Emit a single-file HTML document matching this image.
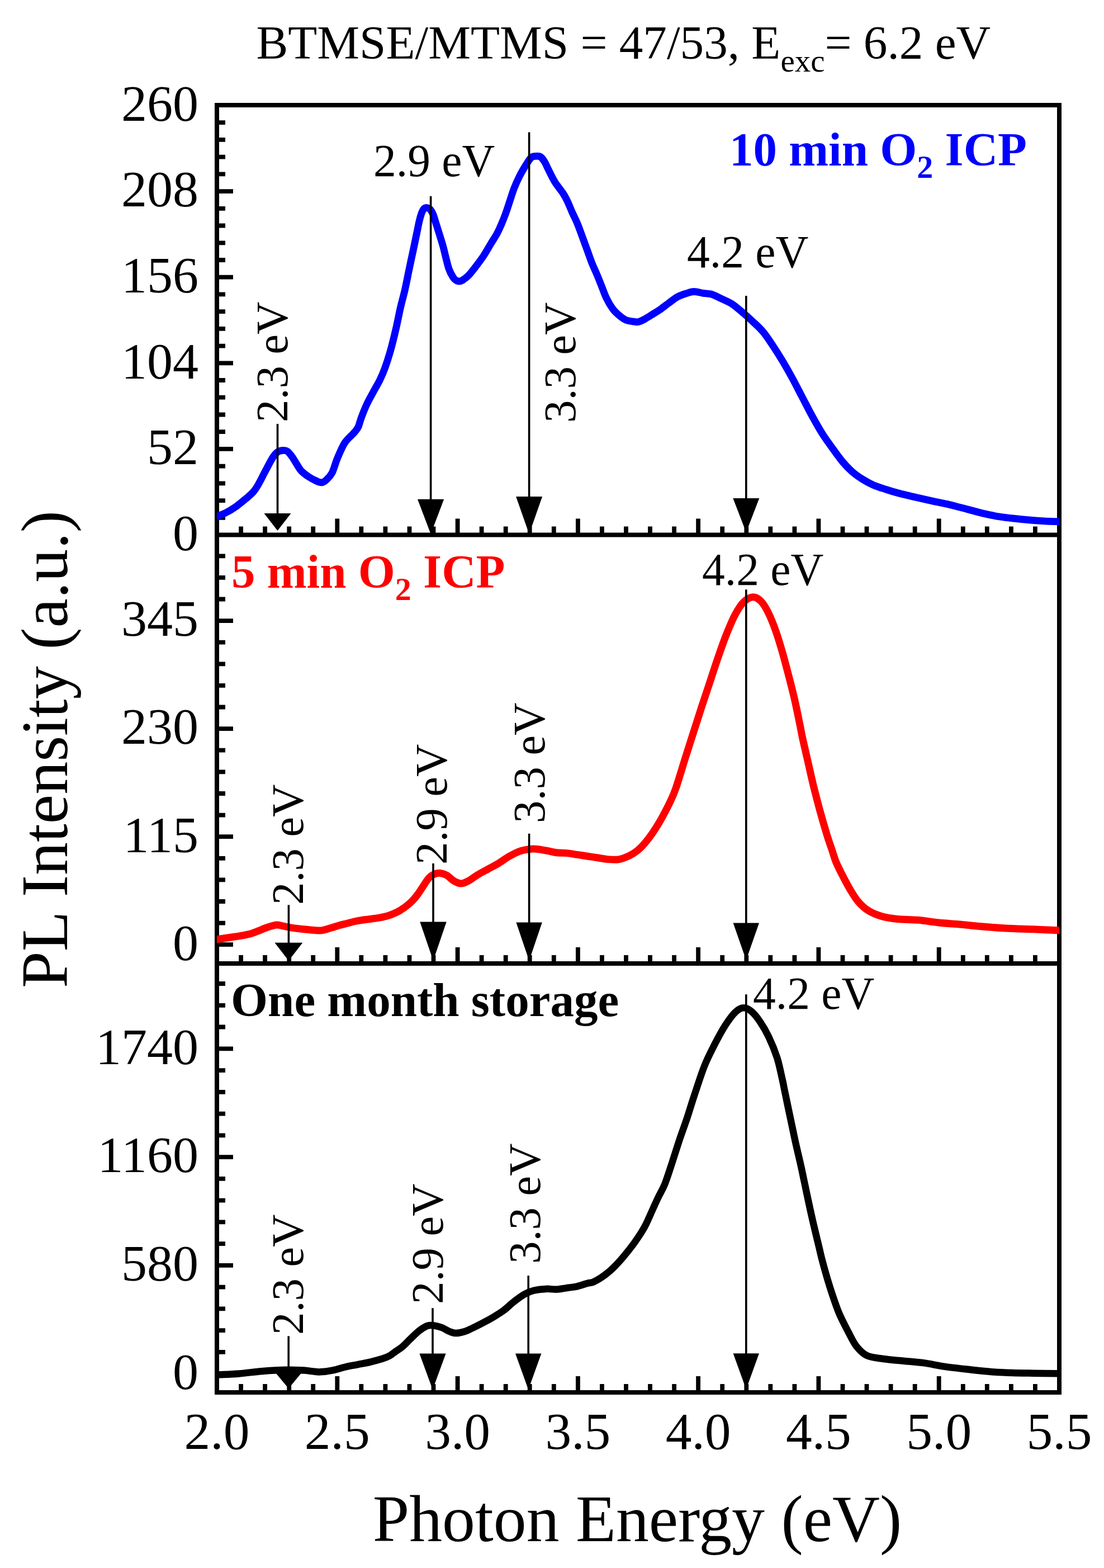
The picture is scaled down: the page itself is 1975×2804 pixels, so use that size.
<!DOCTYPE html><html><head><meta charset="utf-8"><style>html,body{margin:0;padding:0;background:#fff}svg{display:block}</style></head><body><svg width="1975" height="2804" viewBox="0 0 1975 2804">
<rect width="1975" height="2804" fill="#fff"/>
<path d="M431.1,956.5V941.5M474.1,956.5V941.5M517.2,956.5V941.5M560.2,956.5V941.5M603.3,956.5V927.5M646.3,956.5V941.5M689.4,956.5V941.5M732.5,956.5V941.5M775.5,956.5V941.5M818.6,956.5V927.5M861.6,956.5V941.5M904.7,956.5V941.5M947.7,956.5V941.5M990.8,956.5V941.5M1033.9,956.5V927.5M1076.9,956.5V941.5M1120.0,956.5V941.5M1163.0,956.5V941.5M1206.1,956.5V941.5M1249.1,956.5V927.5M1292.2,956.5V941.5M1335.3,956.5V941.5M1378.3,956.5V941.5M1421.4,956.5V941.5M1464.4,956.5V927.5M1507.5,956.5V941.5M1550.5,956.5V941.5M1593.6,956.5V941.5M1636.7,956.5V941.5M1679.7,956.5V927.5M1722.8,956.5V941.5M1765.8,956.5V941.5M1808.9,956.5V941.5M1851.9,956.5V941.5M388,925.8H403M388,895.1H403M388,864.3H403M388,833.6H403M388,802.9H417M388,772.2H403M388,741.5H403M388,710.7H403M388,680.0H403M388,649.3H417M388,618.6H403M388,587.9H403M388,557.1H403M388,526.4H403M388,495.7H417M388,465.0H403M388,434.3H403M388,403.5H403M388,372.8H403M388,342.1H417M388,311.4H403M388,280.7H403M388,249.9H403M388,219.2H403M431.1,1723.0V1708.0M474.1,1723.0V1708.0M517.2,1723.0V1708.0M560.2,1723.0V1708.0M603.3,1723.0V1694.0M646.3,1723.0V1708.0M689.4,1723.0V1708.0M732.5,1723.0V1708.0M775.5,1723.0V1708.0M818.6,1723.0V1694.0M861.6,1723.0V1708.0M904.7,1723.0V1708.0M947.7,1723.0V1708.0M990.8,1723.0V1708.0M1033.9,1723.0V1694.0M1076.9,1723.0V1708.0M1120.0,1723.0V1708.0M1163.0,1723.0V1708.0M1206.1,1723.0V1708.0M1249.1,1723.0V1694.0M1292.2,1723.0V1708.0M1335.3,1723.0V1708.0M1378.3,1723.0V1708.0M1421.4,1723.0V1708.0M1464.4,1723.0V1694.0M1507.5,1723.0V1708.0M1550.5,1723.0V1708.0M1593.6,1723.0V1708.0M1636.7,1723.0V1708.0M1679.7,1723.0V1694.0M1722.8,1723.0V1708.0M1765.8,1723.0V1708.0M1808.9,1723.0V1708.0M1851.9,1723.0V1708.0M388,1689.2H417M388,1650.6H403M388,1612.0H403M388,1573.4H403M388,1534.8H403M388,1496.2H417M388,1457.6H403M388,1419.0H403M388,1380.3H403M388,1341.7H403M388,1303.1H417M388,1264.5H403M388,1225.9H403M388,1187.3H403M388,1148.7H403M388,1110.1H417M388,1071.5H403M388,1032.9H403M388,994.3H403M431.1,2490.0V2475.0M474.1,2490.0V2475.0M517.2,2490.0V2475.0M560.2,2490.0V2475.0M603.3,2490.0V2461.0M646.3,2490.0V2475.0M689.4,2490.0V2475.0M732.5,2490.0V2475.0M775.5,2490.0V2475.0M818.6,2490.0V2461.0M861.6,2490.0V2475.0M904.7,2490.0V2475.0M947.7,2490.0V2475.0M990.8,2490.0V2475.0M1033.9,2490.0V2461.0M1076.9,2490.0V2475.0M1120.0,2490.0V2475.0M1163.0,2490.0V2475.0M1206.1,2490.0V2475.0M1249.1,2490.0V2461.0M1292.2,2490.0V2475.0M1335.3,2490.0V2475.0M1378.3,2490.0V2475.0M1421.4,2490.0V2475.0M1464.4,2490.0V2461.0M1507.5,2490.0V2475.0M1550.5,2490.0V2475.0M1593.6,2490.0V2475.0M1636.7,2490.0V2475.0M1679.7,2490.0V2461.0M1722.8,2490.0V2475.0M1765.8,2490.0V2475.0M1808.9,2490.0V2475.0M1851.9,2490.0V2475.0M388,2456.7H417M388,2417.9H403M388,2379.2H403M388,2340.4H403M388,2301.7H403M388,2262.9H417M388,2224.1H403M388,2185.4H403M388,2146.6H403M388,2107.9H403M388,2069.1H417M388,2030.3H403M388,1991.6H403M388,1952.8H403M388,1914.1H403M388,1875.3H417M388,1836.5H403M388,1797.8H403M388,1759.0H403" stroke="#000" stroke-width="7.8" fill="none"/>
<path d="M388,188H1895V2490H388Z M388,956.5H1895 M388,1723H1895" fill="none" stroke="#000" stroke-width="8" stroke-linejoin="miter"/>
<defs>
<clipPath id="c0"><rect x="388" y="188" width="1507" height="768.5"/></clipPath>
<clipPath id="c1"><rect x="388" y="956.5" width="1507" height="766.5"/></clipPath>
<clipPath id="c2"><rect x="388" y="1723" width="1507" height="767"/></clipPath>
</defs>
<path clip-path="url(#c0)" d="M380.0,927.0 C380.8,926.6 381.1,926.1 385.0,924.5 C388.9,922.9 397.4,920.2 403.6,917.1 C409.8,914.0 415.9,910.2 422.1,905.9 C428.3,901.6 435.6,895.4 440.7,891.1 C445.8,886.8 449.2,884.1 452.8,880.0 C456.4,875.9 458.3,873.0 462.0,866.6 C465.7,860.2 470.6,850.0 475.0,841.8 C479.4,833.5 484.9,822.7 488.6,817.1 C492.3,811.5 494.2,809.9 497.0,808.0 C499.8,806.1 502.5,805.7 505.3,805.5 C508.1,805.3 511.1,805.1 514.0,807.0 C516.9,808.9 520.0,813.4 522.7,817.1 C525.5,820.9 527.8,825.4 530.5,829.5 C533.2,833.6 535.1,838.0 538.7,841.8 C542.3,845.6 547.3,849.4 552.0,852.5 C556.7,855.6 562.8,858.8 566.8,860.5 C570.8,862.2 572.9,863.3 575.8,862.9 C578.7,862.5 581.0,860.9 584.0,858.0 C587.0,855.1 590.8,851.8 594.0,845.6 C597.2,839.4 599.7,829.0 603.1,820.7 C606.5,812.4 611.3,801.6 614.3,795.9 C617.3,790.2 618.7,789.3 621.0,786.5 C623.3,783.7 625.7,781.7 628.0,779.3 C630.3,776.9 632.8,774.8 635.0,772.0 C637.2,769.2 639.3,767.1 641.2,762.8 C643.1,758.5 644.0,753.1 646.6,746.2 C649.2,739.3 653.0,729.7 656.9,721.4 C660.8,713.1 666.5,703.5 670.2,696.6 C673.9,689.7 676.3,686.2 679.3,680.0 C682.3,673.8 684.9,668.5 688.2,659.1 C691.6,649.8 696.0,636.0 699.4,623.9 C702.8,611.8 705.8,598.9 708.6,586.8 C711.4,574.7 713.5,563.0 716.1,551.5 C718.7,540.0 721.9,529.2 724.4,518.1 C726.9,507.0 729.0,495.8 731.3,484.7 C733.6,473.6 736.0,462.4 738.4,451.3 C740.8,440.2 743.4,427.4 745.4,417.9 C747.4,408.4 748.7,400.9 750.3,394.5 C751.9,388.1 753.4,383.2 754.8,379.7 C756.2,376.1 757.2,374.6 758.5,373.2 C759.8,371.8 761.0,371.4 762.3,371.3 C763.6,371.2 765.1,371.6 766.5,372.3 C767.9,373.0 769.0,373.4 770.5,375.5 C772.0,377.6 774.0,381.2 775.5,385.0 C777.0,388.8 778.0,393.1 779.5,398.0 C781.0,402.9 782.5,407.5 784.6,414.2 C786.7,420.9 789.8,430.6 792.0,438.3 C794.2,446.0 795.8,453.5 797.6,460.6 C799.5,467.7 801.0,475.1 803.1,481.0 C805.2,486.9 808.4,492.4 810.5,495.8 C812.6,499.2 814.2,500.3 816.0,501.5 C817.8,502.7 819.3,503.0 821.2,503.0 C823.1,503.0 824.3,503.1 827.2,501.3 C830.1,499.5 834.1,496.7 838.5,492.1 C842.9,487.5 848.9,479.5 853.4,473.6 C857.9,467.7 861.5,463.1 865.5,456.9 C869.5,450.7 873.8,443.0 877.7,436.5 C881.6,430.0 885.9,423.7 889.0,418.0 C892.1,412.3 894.0,407.8 896.5,402.1 C899.0,396.4 901.4,390.4 903.9,383.6 C906.4,376.8 908.9,369.0 911.5,361.3 C914.1,353.6 916.5,344.9 919.5,337.2 C922.5,329.5 925.9,322.0 929.5,314.9 C933.1,307.8 937.7,300.1 941.2,294.5 C944.7,288.9 947.5,284.0 950.5,281.5 C953.5,279.0 956.2,279.5 959.0,279.3 C961.8,279.1 964.5,278.9 967.0,280.5 C969.5,282.1 971.9,285.8 974.0,289.0 C976.1,292.2 977.7,296.3 979.5,300.0 C981.3,303.7 982.8,306.9 985.0,311.2 C987.2,315.5 990.4,321.8 993.0,326.0 C995.6,330.2 998.1,333.2 1000.5,336.5 C1002.9,339.8 1005.1,342.2 1007.5,346.0 C1009.9,349.8 1012.2,353.9 1014.9,359.5 C1017.6,365.1 1020.7,373.1 1023.7,379.9 C1026.7,386.6 1030.0,392.7 1033.0,400.0 C1036.0,407.3 1038.9,415.7 1041.8,423.5 C1044.7,431.3 1047.5,439.1 1050.4,447.0 C1053.3,454.9 1056.1,463.4 1059.0,470.6 C1061.9,477.8 1064.8,483.7 1067.6,490.2 C1070.3,496.7 1072.6,502.6 1075.5,509.8 C1078.4,517.0 1081.4,526.1 1084.9,533.3 C1088.4,540.5 1092.7,547.7 1096.6,552.9 C1100.5,558.1 1104.5,561.3 1108.4,564.6 C1112.3,567.9 1116.3,570.8 1120.2,572.5 C1124.1,574.2 1128.4,574.3 1131.9,574.8 C1135.4,575.3 1137.7,576.3 1141.1,575.7 C1144.5,575.1 1148.0,573.4 1152.3,571.2 C1156.6,569.0 1162.1,565.4 1167.1,562.3 C1172.0,559.2 1177.0,556.2 1182.0,552.7 C1187.0,549.2 1191.9,545.2 1196.8,541.6 C1201.7,538.0 1206.6,533.9 1211.6,531.2 C1216.5,528.5 1221.5,526.8 1226.5,525.2 C1231.5,523.6 1236.1,521.6 1241.3,521.5 C1246.5,521.4 1252.7,523.5 1257.9,524.3 C1263.2,525.1 1267.2,524.5 1272.8,526.2 C1278.4,527.9 1285.1,531.6 1291.3,534.5 C1297.5,537.4 1303.7,539.8 1309.9,543.8 C1316.1,547.8 1322.2,553.4 1328.4,558.6 C1334.6,563.9 1340.8,569.4 1347.0,575.3 C1353.2,581.2 1359.6,586.8 1365.5,593.9 C1371.4,601.0 1376.9,609.6 1382.5,618.0 C1388.1,626.4 1393.2,634.4 1399.0,644.0 C1404.8,653.6 1411.1,664.7 1417.0,675.5 C1422.9,686.3 1428.5,697.4 1434.5,708.9 C1440.5,720.4 1446.9,733.1 1453.0,744.2 C1459.1,755.3 1465.1,766.0 1471.0,775.4 C1476.9,784.8 1482.4,792.1 1488.5,800.5 C1494.6,808.9 1501.4,818.8 1507.5,826.0 C1513.6,833.2 1519.1,838.8 1525.0,844.0 C1530.9,849.2 1536.8,853.1 1543.0,857.0 C1549.2,860.9 1555.4,864.3 1562.3,867.3 C1569.2,870.3 1577.1,872.7 1584.5,875.1 C1591.9,877.5 1599.4,879.8 1606.8,881.8 C1614.2,883.8 1621.7,885.5 1629.1,887.3 C1636.5,889.0 1643.9,890.6 1651.3,892.3 C1658.7,894.0 1666.2,895.7 1673.6,897.3 C1681.0,898.9 1688.4,900.1 1695.8,901.8 C1703.2,903.5 1707.5,904.7 1718.1,907.4 C1728.7,910.1 1747.9,915.5 1759.3,918.2 C1770.7,920.9 1777.4,922.2 1786.5,923.7 C1795.6,925.2 1804.6,926.2 1813.7,927.2 C1822.8,928.2 1831.9,929.1 1841.0,929.9 C1850.1,930.7 1859.6,931.3 1868.2,931.8 C1876.8,932.3 1886.6,932.5 1892.7,932.7 C1898.8,932.9 1903.0,933.0 1905.0,933.0" fill="none" stroke="#0000ff" stroke-width="12.8" stroke-linejoin="round" stroke-linecap="round"/>
<path clip-path="url(#c1)" d="M380.0,1681.0 C381.5,1680.8 383.9,1680.5 388.9,1679.8 C393.8,1679.1 402.9,1677.6 409.7,1676.6 C416.5,1675.6 422.9,1674.8 429.5,1673.6 C436.1,1672.4 444.2,1670.8 449.3,1669.4 C454.4,1668.1 455.2,1667.3 460.0,1665.5 C464.8,1663.7 472.1,1660.4 477.8,1658.5 C483.5,1656.6 489.6,1654.5 494.2,1654.0 C498.8,1653.5 501.5,1655.0 505.6,1655.8 C509.7,1656.6 512.6,1657.6 519.0,1658.6 C525.4,1659.6 536.9,1661.0 543.7,1661.8 C550.5,1662.6 554.9,1662.8 560.0,1663.2 C565.1,1663.6 569.1,1664.6 574.6,1663.9 C580.1,1663.2 588.1,1660.4 593.2,1659.0 C598.4,1657.6 601.0,1656.5 605.5,1655.3 C610.0,1654.0 615.0,1652.8 620.0,1651.5 C625.0,1650.2 629.8,1648.7 635.5,1647.5 C641.2,1646.3 646.8,1645.5 654.0,1644.5 C661.2,1643.5 671.4,1642.5 678.6,1641.2 C685.8,1639.9 690.9,1638.8 697.1,1636.6 C703.3,1634.4 709.5,1631.9 715.7,1628.2 C721.9,1624.5 729.0,1619.1 734.2,1614.3 C739.5,1609.5 743.2,1604.8 747.2,1599.5 C751.2,1594.2 754.9,1587.8 758.3,1582.8 C761.7,1577.8 764.5,1573.0 767.6,1569.8 C770.7,1566.5 773.5,1564.7 776.9,1563.3 C780.3,1561.9 784.3,1561.1 788.0,1561.4 C791.7,1561.7 795.1,1562.8 799.1,1565.1 C803.1,1567.4 807.8,1572.8 812.1,1575.3 C816.4,1577.8 820.8,1580.0 825.1,1580.0 C829.4,1580.0 833.2,1577.9 838.1,1575.3 C843.0,1572.7 848.9,1567.8 854.8,1564.2 C860.7,1560.7 867.2,1557.4 873.4,1554.0 C879.6,1550.6 885.7,1547.5 891.9,1543.8 C898.1,1540.1 904.3,1535.2 910.5,1531.7 C916.7,1528.2 923.1,1524.7 929.0,1522.5 C934.9,1520.3 940.8,1519.5 945.7,1518.8 C950.6,1518.1 953.4,1517.8 958.6,1518.2 C963.8,1518.6 970.9,1519.9 977.1,1521.0 C983.3,1522.1 989.5,1523.9 995.7,1524.7 C1001.9,1525.5 1008.0,1525.0 1014.2,1525.6 C1020.4,1526.2 1026.6,1527.5 1032.8,1528.4 C1039.0,1529.3 1045.1,1530.3 1051.3,1531.2 C1057.5,1532.1 1063.7,1533.1 1069.9,1534.0 C1076.1,1534.9 1082.2,1536.3 1088.4,1536.8 C1094.6,1537.3 1100.8,1537.9 1107.0,1536.8 C1113.2,1535.7 1119.9,1532.9 1125.5,1530.3 C1131.1,1527.7 1135.8,1524.7 1140.4,1521.0 C1145.1,1517.3 1149.1,1513.0 1153.4,1508.0 C1157.7,1503.0 1162.0,1497.5 1166.3,1491.3 C1170.6,1485.1 1175.3,1477.7 1179.3,1470.9 C1183.3,1464.1 1187.1,1457.0 1190.5,1450.5 C1193.9,1444.0 1196.6,1438.8 1199.7,1432.0 C1202.8,1425.2 1204.6,1422.5 1209.0,1409.7 C1213.4,1396.9 1220.7,1372.2 1226.0,1355.4 C1231.3,1338.6 1235.8,1324.5 1240.8,1309.0 C1245.8,1293.5 1250.8,1277.8 1255.7,1262.6 C1260.7,1247.4 1265.6,1232.9 1270.5,1218.1 C1275.4,1203.3 1280.3,1187.8 1285.3,1173.6 C1290.2,1159.4 1295.2,1145.2 1300.2,1132.8 C1305.2,1120.4 1310.0,1108.7 1315.0,1099.4 C1320.0,1090.1 1324.6,1082.4 1329.9,1077.1 C1335.2,1071.8 1341.3,1068.1 1346.6,1067.8 C1351.8,1067.5 1356.8,1070.6 1361.4,1075.3 C1366.0,1080.0 1370.1,1087.0 1374.4,1095.7 C1378.7,1104.4 1383.4,1116.1 1387.4,1127.2 C1391.4,1138.3 1394.8,1149.7 1398.5,1162.4 C1402.2,1175.1 1405.9,1189.1 1409.6,1203.3 C1413.3,1217.5 1417.2,1232.3 1420.8,1247.8 C1424.4,1263.2 1428.5,1284.0 1431.0,1296.0 C1433.5,1308.0 1433.2,1308.7 1435.7,1320.0 C1438.2,1331.3 1442.4,1349.1 1445.7,1363.6 C1449.0,1378.1 1452.1,1392.6 1455.7,1407.1 C1459.3,1421.6 1463.1,1436.2 1467.1,1450.7 C1471.1,1465.2 1476.2,1482.7 1479.7,1494.2 C1483.2,1505.8 1485.9,1512.4 1488.4,1520.0 C1491.0,1527.6 1492.2,1533.0 1495.0,1540.0 C1497.8,1547.0 1501.1,1553.5 1505.3,1561.8 C1509.5,1570.1 1515.2,1581.2 1520.2,1589.6 C1525.2,1597.9 1529.4,1605.4 1535.0,1611.9 C1540.6,1618.4 1546.5,1624.1 1553.6,1628.6 C1560.7,1633.1 1569.0,1636.3 1577.7,1638.8 C1586.4,1641.3 1594.7,1642.4 1605.5,1643.5 C1616.3,1644.6 1630.2,1644.2 1642.6,1645.3 C1655.0,1646.4 1667.3,1648.7 1679.7,1650.0 C1692.1,1651.3 1705.2,1652.0 1716.8,1653.0 C1728.4,1654.0 1735.8,1655.1 1749.5,1656.3 C1763.2,1657.5 1782.5,1659.1 1799.0,1660.0 C1815.5,1660.9 1832.5,1661.2 1848.4,1661.8 C1864.3,1662.4 1884.8,1663.3 1894.2,1663.7 C1903.6,1664.1 1903.2,1664.0 1905.0,1664.0" fill="none" stroke="#ff0000" stroke-width="13" stroke-linejoin="round" stroke-linecap="round"/>
<path clip-path="url(#c2)" d="M380.0,2459.0 C382.1,2458.9 384.5,2458.7 392.4,2458.3 C400.3,2457.9 415.1,2457.4 427.6,2456.4 C440.1,2455.4 455.7,2453.2 467.2,2452.2 C478.7,2451.2 488.3,2450.6 496.8,2450.2 C505.3,2449.8 511.4,2449.8 518.0,2449.8 C524.6,2449.8 531.4,2450.0 536.4,2450.2 C541.4,2450.4 544.1,2450.5 548.0,2450.9 C551.9,2451.3 555.8,2452.0 560.0,2452.4 C564.2,2452.8 567.4,2453.7 573.4,2453.3 C579.4,2453.0 588.3,2451.8 595.7,2450.3 C603.1,2448.8 610.5,2446.2 617.9,2444.5 C625.3,2442.8 632.8,2441.6 640.2,2440.1 C647.6,2438.6 655.1,2437.4 662.5,2435.6 C669.9,2433.8 679.0,2431.3 684.7,2429.5 C690.5,2427.7 693.3,2426.5 697.0,2424.5 C700.7,2422.5 703.2,2420.0 707.0,2417.3 C710.8,2414.6 715.5,2412.1 720.0,2408.3 C724.5,2404.5 729.4,2399.0 734.2,2394.3 C739.1,2389.7 744.2,2384.3 749.1,2380.4 C754.0,2376.5 759.6,2372.8 763.9,2371.1 C768.2,2369.4 770.7,2369.7 775.0,2370.2 C779.3,2370.7 784.9,2372.1 789.9,2373.9 C794.9,2375.8 800.4,2379.6 804.7,2381.3 C809.0,2383.0 811.5,2384.1 815.8,2384.1 C820.1,2384.1 825.8,2382.9 830.7,2381.3 C835.7,2379.8 839.9,2377.4 845.5,2374.8 C851.1,2372.2 857.9,2368.8 864.1,2365.5 C870.3,2362.2 876.4,2359.0 882.6,2355.3 C888.8,2351.6 895.0,2347.9 901.2,2343.3 C907.4,2338.7 913.5,2332.3 919.7,2327.5 C925.9,2322.7 932.4,2317.8 938.3,2314.5 C944.1,2311.2 948.3,2309.3 954.8,2307.7 C961.3,2306.1 970.3,2305.2 977.1,2304.9 C983.9,2304.6 989.5,2306.1 995.7,2305.8 C1001.9,2305.5 1008.0,2304.0 1014.2,2303.1 C1020.4,2302.2 1026.6,2301.7 1032.8,2300.3 C1039.0,2298.9 1046.8,2295.9 1051.3,2294.7 C1055.8,2293.5 1056.5,2294.5 1060.0,2293.2 C1063.5,2291.9 1068.3,2289.2 1072.4,2286.7 C1076.5,2284.2 1080.6,2281.2 1084.7,2278.0 C1088.8,2274.8 1093.0,2271.2 1097.1,2267.2 C1101.2,2263.2 1105.4,2258.8 1109.5,2254.2 C1113.6,2249.6 1117.7,2244.6 1121.8,2239.4 C1125.9,2234.2 1130.1,2229.0 1134.2,2223.3 C1138.3,2217.6 1143.0,2210.8 1146.6,2205.0 C1150.2,2199.2 1152.2,2196.3 1155.9,2188.7 C1159.7,2181.1 1165.4,2167.6 1169.1,2159.5 C1172.8,2151.4 1174.8,2147.0 1178.2,2139.9 C1181.6,2132.8 1185.5,2127.1 1189.6,2116.7 C1193.7,2106.3 1198.6,2090.6 1202.9,2077.6 C1207.2,2064.6 1211.1,2051.5 1215.5,2038.4 C1219.9,2025.3 1224.8,2012.3 1229.2,1999.2 C1233.6,1986.1 1236.5,1975.5 1241.7,1960.0 C1246.9,1944.5 1254.0,1921.7 1260.2,1906.2 C1266.4,1890.7 1272.5,1879.3 1278.7,1867.2 C1284.9,1855.1 1291.1,1843.4 1297.3,1833.8 C1303.5,1824.2 1310.2,1815.0 1315.8,1809.7 C1321.4,1804.5 1325.8,1802.3 1330.7,1802.3 C1335.7,1802.3 1340.5,1805.4 1345.5,1809.7 C1350.5,1814.0 1355.5,1820.8 1360.4,1828.2 C1365.4,1835.6 1370.2,1843.7 1375.2,1854.2 C1380.2,1864.7 1386.0,1878.7 1390.1,1891.3 C1394.1,1903.9 1397.2,1920.2 1399.5,1930.0 C1401.8,1939.8 1401.3,1939.2 1403.6,1950.0 C1405.8,1960.8 1409.8,1980.0 1413.0,1995.0 C1416.2,2010.0 1419.1,2024.5 1422.5,2040.0 C1425.9,2055.5 1430.0,2071.9 1433.5,2087.9 C1437.0,2103.9 1440.2,2119.9 1443.6,2135.9 C1447.0,2151.9 1450.4,2167.8 1454.1,2183.8 C1457.8,2199.8 1463.0,2220.8 1465.6,2231.8 C1468.2,2242.8 1467.7,2241.4 1469.9,2250.0 C1472.1,2258.6 1475.8,2272.1 1479.0,2283.1 C1482.2,2294.1 1485.7,2305.2 1489.4,2316.2 C1493.1,2327.2 1496.7,2338.2 1501.4,2349.3 C1506.2,2360.4 1512.8,2372.8 1517.9,2382.5 C1523.0,2392.2 1526.5,2400.4 1532.0,2407.3 C1537.5,2414.2 1543.0,2420.4 1551.0,2424.2 C1559.0,2428.0 1569.1,2428.4 1580.0,2430.0 C1590.9,2431.6 1604.1,2432.5 1616.3,2433.7 C1628.5,2434.9 1641.0,2435.7 1653.4,2437.4 C1665.8,2439.1 1676.5,2441.9 1690.5,2443.9 C1704.5,2445.9 1723.1,2447.9 1737.1,2449.5 C1751.0,2451.1 1761.8,2452.3 1774.2,2453.2 C1786.6,2454.1 1798.9,2454.6 1811.3,2455.0 C1823.7,2455.4 1835.2,2455.5 1848.4,2455.7 C1861.6,2455.9 1881.1,2456.2 1890.5,2456.3 C1899.9,2456.4 1902.6,2456.5 1905.0,2456.5" fill="none" stroke="#000" stroke-width="12.5" stroke-linejoin="round" stroke-linecap="round"/>
<line x1="496.5" y1="758" x2="496.5" y2="920" stroke="#000" stroke-width="3.6"/>
<polygon points="472.5,918 520.5,918 496.5,949" fill="#000"/>
<line x1="770.6" y1="350.7" x2="770.6" y2="894.8" stroke="#000" stroke-width="3.6"/>
<polygon points="747.0,892.8 794.2,892.8 770.6,955" fill="#000"/>
<line x1="946.6" y1="236.4" x2="946.6" y2="890" stroke="#000" stroke-width="3.6"/>
<polygon points="923.1,888 970.1,888 946.6,955" fill="#000"/>
<line x1="1334.8" y1="529" x2="1334.8" y2="893" stroke="#000" stroke-width="3.6"/>
<polygon points="1311.3,891 1358.3,891 1334.8,952" fill="#000"/>
<line x1="516.4" y1="1618.3" x2="516.4" y2="1687.8" stroke="#000" stroke-width="3.6"/>
<polygon points="491.4,1685.8 541.4,1685.8 516.4,1718" fill="#000"/>
<line x1="775" y1="1544" x2="775" y2="1650.5" stroke="#000" stroke-width="3.6"/>
<polygon points="751.3,1648.5 798.7,1648.5 775,1718" fill="#000"/>
<line x1="946.6" y1="1490.8" x2="946.6" y2="1651.4" stroke="#000" stroke-width="3.6"/>
<polygon points="923.4,1649.4 969.8000000000001,1649.4 946.6,1718" fill="#000"/>
<line x1="1334.8" y1="1054.3" x2="1334.8" y2="1652.5" stroke="#000" stroke-width="3.6"/>
<polygon points="1311.6,1650.5 1358.0,1650.5 1334.8,1717" fill="#000"/>
<line x1="516.2" y1="2389.3" x2="516.2" y2="2457" stroke="#000" stroke-width="3.6"/>
<polygon points="493.00000000000006,2455 539.4000000000001,2455 516.2,2483" fill="#000"/>
<line x1="774" y1="2339.2" x2="774" y2="2422.4" stroke="#000" stroke-width="3.6"/>
<polygon points="750.4,2420.4 797.6,2420.4 774,2485" fill="#000"/>
<line x1="945.2" y1="2281.2" x2="945.2" y2="2422.4" stroke="#000" stroke-width="3.6"/>
<polygon points="922.0,2420.4 968.4000000000001,2420.4 945.2,2485" fill="#000"/>
<line x1="1334.8" y1="1778.3" x2="1334.8" y2="2422.2" stroke="#000" stroke-width="3.6"/>
<polygon points="1311.6,2420.2 1358.0,2420.2 1334.8,2484.5" fill="#000"/>
<text x="355" y="983.8" font-family="'Liberation Serif', serif" font-size="92" text-anchor="end">0</text>
<text x="355" y="830.2" font-family="'Liberation Serif', serif" font-size="92" text-anchor="end">52</text>
<text x="355" y="676.6" font-family="'Liberation Serif', serif" font-size="92" text-anchor="end">104</text>
<text x="355" y="523.0" font-family="'Liberation Serif', serif" font-size="92" text-anchor="end">156</text>
<text x="355" y="369.4" font-family="'Liberation Serif', serif" font-size="92" text-anchor="end">208</text>
<text x="355" y="215.8" font-family="'Liberation Serif', serif" font-size="92" text-anchor="end">260</text>
<text x="355" y="1716.5" font-family="'Liberation Serif', serif" font-size="92" text-anchor="end">0</text>
<text x="355" y="1523.5" font-family="'Liberation Serif', serif" font-size="92" text-anchor="end">115</text>
<text x="355" y="1330.4" font-family="'Liberation Serif', serif" font-size="92" text-anchor="end">230</text>
<text x="355" y="1137.4" font-family="'Liberation Serif', serif" font-size="92" text-anchor="end">345</text>
<text x="355" y="2484.0" font-family="'Liberation Serif', serif" font-size="92" text-anchor="end">0</text>
<text x="355" y="2290.2" font-family="'Liberation Serif', serif" font-size="92" text-anchor="end">580</text>
<text x="355" y="2096.4" font-family="'Liberation Serif', serif" font-size="92" text-anchor="end">1160</text>
<text x="355" y="1902.6" font-family="'Liberation Serif', serif" font-size="92" text-anchor="end">1740</text>
<text x="388.0" y="2591" font-family="'Liberation Serif', serif" font-size="93.5" text-anchor="middle">2.0</text>
<text x="603.3" y="2591" font-family="'Liberation Serif', serif" font-size="93.5" text-anchor="middle">2.5</text>
<text x="818.6" y="2591" font-family="'Liberation Serif', serif" font-size="93.5" text-anchor="middle">3.0</text>
<text x="1033.9" y="2591" font-family="'Liberation Serif', serif" font-size="93.5" text-anchor="middle">3.5</text>
<text x="1249.1" y="2591" font-family="'Liberation Serif', serif" font-size="93.5" text-anchor="middle">4.0</text>
<text x="1464.4" y="2591" font-family="'Liberation Serif', serif" font-size="93.5" text-anchor="middle">4.5</text>
<text x="1679.7" y="2591" font-family="'Liberation Serif', serif" font-size="93.5" text-anchor="middle">5.0</text>
<text x="1895.0" y="2591" font-family="'Liberation Serif', serif" font-size="93.5" text-anchor="middle">5.5</text>
<text x="668" y="315" font-family="'Liberation Serif', serif" font-size="81.5">2.9 eV</text>
<text x="1229" y="478" font-family="'Liberation Serif', serif" font-size="81.5">4.2 eV</text>
<text x="1256" y="1046" font-family="'Liberation Serif', serif" font-size="81.5">4.2 eV</text>
<text x="1347" y="1804" font-family="'Liberation Serif', serif" font-size="81.5">4.2 eV</text>
<text transform="translate(513.7,755) rotate(-90)" font-family="'Liberation Serif', serif" font-size="80.8">2.3 eV</text>
<text transform="translate(1029,756) rotate(-90)" font-family="'Liberation Serif', serif" font-size="80.8">3.3 eV</text>
<text transform="translate(542,1618) rotate(-90)" font-family="'Liberation Serif', serif" font-size="80.8">2.3 eV</text>
<text transform="translate(799,1546) rotate(-90)" font-family="'Liberation Serif', serif" font-size="80.8">2.9 eV</text>
<text transform="translate(973.8,1472) rotate(-90)" font-family="'Liberation Serif', serif" font-size="80.8">3.3 eV</text>
<text transform="translate(542,2387) rotate(-90)" font-family="'Liberation Serif', serif" font-size="80.8">2.3 eV</text>
<text transform="translate(792,2332) rotate(-90)" font-family="'Liberation Serif', serif" font-size="80.8">2.9 eV</text>
<text transform="translate(966,2260) rotate(-90)" font-family="'Liberation Serif', serif" font-size="80.8">3.3 eV</text>
<text x="458.5" y="105" font-family="'Liberation Serif', serif" font-size="85.2">BTMSE/MTMS = 47/53, E<tspan font-size="57" dy="23">exc</tspan><tspan dy="-23">= 6.2 eV</tspan></text>
<text x="1305" y="296" font-family="'Liberation Serif', serif" font-size="85" font-weight="bold" fill="#0000ff">10 min O<tspan font-size="58" dy="22">2</tspan><tspan dy="-22"> ICP</tspan></text>
<text x="414" y="1051" font-family="'Liberation Serif', serif" font-size="85" font-weight="bold" fill="#ff0000">5 min O<tspan font-size="58" dy="22">2</tspan><tspan dy="-22"> ICP</tspan></text>
<text x="413" y="1817" font-family="'Liberation Serif', serif" font-size="85" font-weight="bold">One month storage</text>
<text x="1140" y="2756" font-family="'Liberation Serif', serif" font-size="117.8" text-anchor="middle">Photon Energy (eV)</text>
<text transform="translate(120,1340) rotate(-90)" font-family="'Liberation Serif', serif" font-size="118" text-anchor="middle">PL Intensity (a.u.)</text>
</svg></body></html>
